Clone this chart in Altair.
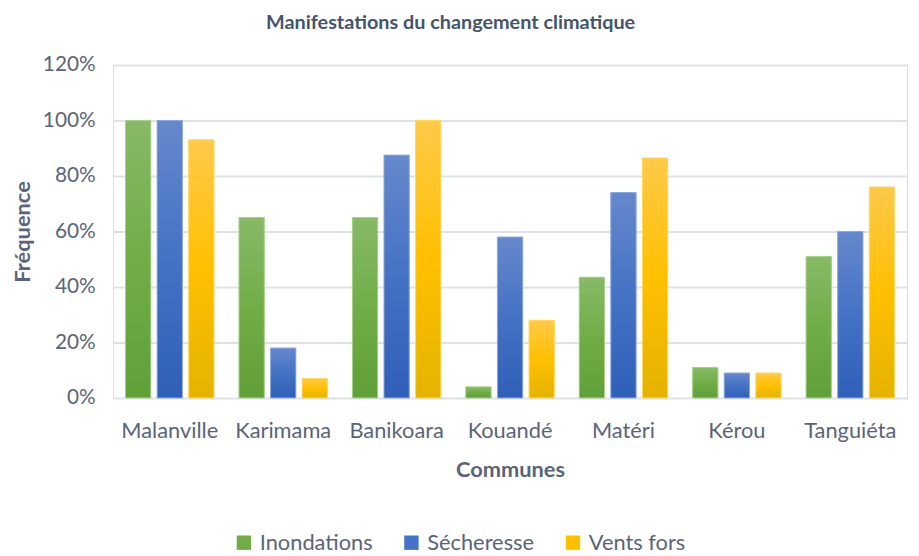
import altair as alt
import pandas as pd

communes = ["Malanville", "Karimama", "Banikoara", "Kouandé", "Matéri", "Kérou", "Tanguiéta"]
series = ["Inondations", "Sécheresse", "Vents fors"]
inondations = [100, 65, 65, 4, 43.5, 11, 51]
secheresse = [100, 18, 87.5, 58, 74, 9, 60]
vents_fors = [93, 7, 100, 28, 86.5, 9, 76]
y_ticks = [0, 0.2, 0.4, 0.6, 0.8, 1.0, 1.2]

base_colors = ["#70ad47", "#4472c4", "#ffc000"]
grad_stops = [
    ["#88b967", "#70ad47", "#60a038"],
    ["#6688cc", "#4472c4", "#2f5fb8"],
    ["#ffc94a", "#ffc000", "#e4b300"],
]
edge_colors = ["#a9d18e", "#8faadc", "#ffd966"]

rows = []
for s, vals in zip(series, [inondations, secheresse, vents_fors]):
    for c, v in zip(communes, vals):
        rows.append({"Commune": c, "Série": s, "Valeur": v / 100})
df = pd.DataFrame(rows)

FONT = "Lato"
TXT = "#5a6478"

x_enc = alt.X(
    "Commune:N", sort=communes,
    scale=alt.Scale(paddingInner=0.22, paddingOuter=0.11),
    axis=alt.Axis(title="Communes", labelAngle=0, ticks=False, domain=False,
                  labelFont=FONT, labelFontSize=22, labelColor=TXT, labelPadding=23,
                  titleFont=FONT, titleFontSize=22, titleFontWeight="bold", titleColor=TXT,
                  titlePadding=18, grid=False),
)
xo_enc = alt.XOffset("Série:N", sort=series, scale=alt.Scale(paddingInner=0.2))
y_enc = alt.Y(
    "Valeur:Q", scale=alt.Scale(domain=[0, 1.2], nice=False),
    axis=alt.Axis(title="Fréquence", values=y_ticks, format=".0%", ticks=False, domain=False,
                  labelFont=FONT, labelFontSize=21, labelColor=TXT, labelPadding=18,
                  titleFont=FONT, titleFontSize=22, titleFontWeight="bold", titleColor=TXT,
                  titlePadding=8, gridColor="#dde1e8", gridWidth=2),
)

legend_layer = alt.Chart(df).mark_bar().encode(
    x=x_enc, xOffset=xo_enc, y=y_enc,
    color=alt.Color(
        "Série:N", sort=series,
        scale=alt.Scale(domain=series, range=base_colors),
        legend=alt.Legend(title=None, orient="none", legendX=121, legendY=471,
                          direction="horizontal", symbolType="square", symbolSize=210,
                          symbolStrokeWidth=0, labelFont=FONT, labelFontSize=22,
                          labelColor=TXT, columnPadding=28, labelOffset=5),
    ),
)

layers = [legend_layer]
for s, stops, edge in zip(series, grad_stops, edge_colors):
    grad = alt.Gradient(
        gradient="linear", x1=0, y1=0, x2=0, y2=1,
        stops=[alt.GradientStop(color=stops[0], offset=0),
               alt.GradientStop(color=stops[1], offset=0.5),
               alt.GradientStop(color=stops[2], offset=1)],
    )
    layers.append(
        alt.Chart(df).transform_filter(alt.datum["Série"] == s)
        .mark_bar(fill=grad, stroke=edge, strokeWidth=1)
        .encode(x=x_enc, xOffset=xo_enc, y=y_enc)
    )

chart = alt.layer(*layers).properties(
    width=801, height=336,
    autosize=alt.AutoSizeParams(type="none"),
    padding={"left": 106, "top": 55, "right": 4, "bottom": 156},
    title=alt.Title("Manifestations du changement climatique", font=FONT, fontSize=20,
                    fontWeight="bold", color="#44546a", anchor="middle", dx=-60, offset=21),
).configure_view(stroke=None).configure(background="white")

chart.save("out.html", embed_options={"renderer": "svg", "actions": False})
